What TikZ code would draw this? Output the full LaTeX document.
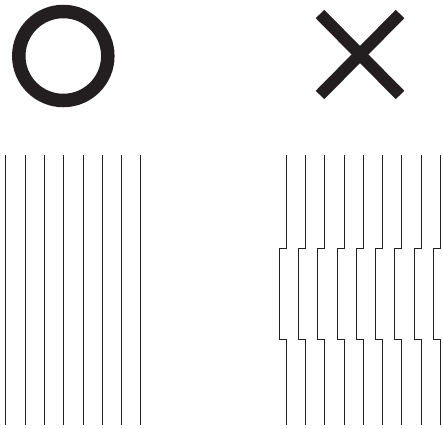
\documentclass[tikz,border=0pt]{standalone}
\usepackage{tikz}
\definecolor{ink}{HTML}{231F20}

\begin{document}
\begin{tikzpicture}[x=1pt,y=-1pt,line width=0.8pt,
  symbol/.style={line width=13.5pt,draw=ink},
  fibre/.style={line width=0.8pt,draw=ink}]
  \useasboundingbox (0,0) rectangle (443,428);
  % correcto
  \draw[symbol] (63.3,56) circle(44.5);
  \foreach \x in {5.7,25,...,141} \draw[fibre] (\x,155)--(\x,425);
  % incorrecto
  \draw[symbol,line width=12pt] (320,14)--(400,95);
  \draw[symbol,line width=12pt] (400,14)--(320,95);
  \foreach \x in {286,305.3,...,441}
    \draw[fibre] (\x,155)--(\x,248.3)--(\x-7,248.3)--(\x-7,339.3)--(\x,339.3)--(\x,424.5);
\end{tikzpicture}
\end{document}
